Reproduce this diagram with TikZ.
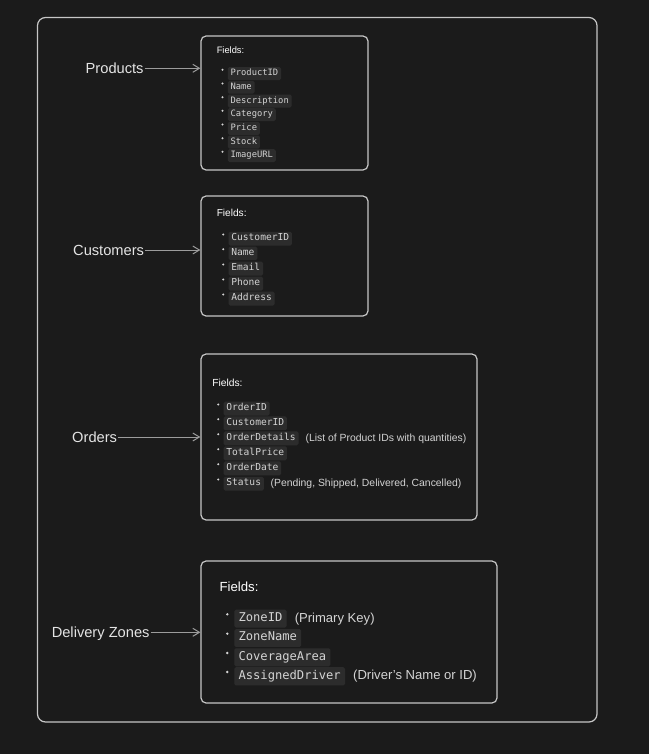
\documentclass[tikz,border=0pt]{standalone}
\usepackage{fontspec}
\setmainfont{Liberation Sans}
\setmonofont{DejaVu Sans Mono}
\usepackage{xcolor}
\usetikzlibrary{arrows.meta, positioning, fit}

\definecolor{canvas}{HTML}{1B1B1B}
\definecolor{framegray}{HTML}{C6C6C6}
\definecolor{chipfill}{HTML}{2C2C2C}
\definecolor{codetext}{HTML}{D4D4D4}
\definecolor{labeltext}{HTML}{E4E4E4}
\definecolor{arrowgray}{HTML}{9C9C9C}

\newcommand{\setsize}[1]{\fontsize{#1}{#1}\selectfont}

\tikzset{
    entity/.style={anchor=east, inner sep=0.5pt, text=labeltext, text depth=0pt, font=\setsize{11}},
    box/.style={draw=framegray, line width=0.9pt, rounded corners=3.8pt, inner sep=0pt},
    title/.style={anchor=west, inner sep=0pt, text=white, font=\setsize{#1}},
    chip/.style={anchor=west, yshift=-1pt, fill=chipfill, rounded corners=1.2pt, inner xsep=2.1pt, inner ysep=1.4pt,
        text=codetext, font=\ttfamily\setsize{#1}, execute at begin node=\strut},
    note/.style={inner sep=0pt, text=codetext, font=\setsize{#1}},
    dot/.style={fill=codetext},
    link/.style={draw=arrowgray, line width=0.75pt, -{Straight Barb[length=5pt, width=6pt]}}
}

\begin{document}
\begin{tikzpicture}[x=0.75pt, y=-0.75pt]

        %% Canvas and outer frame
        \path [use as bounding box, fill=canvas] (0,0) rectangle (649,754);
        \draw [draw=framegray, line width=0.9pt, rounded corners=6pt] (37.5,17.5) rectangle (597,722);

        %% Entity names
        \node (products) [entity] at (144.5,68.3) {Products};
        \node (customers) [entity] at (145,250) {Customers};
        \node (orders) [entity] at (118,437) {Orders};
        \node (zones) [entity] at (150.5,632.3) {Delivery Zones};

        %% Boxes
        \node (prodbox) [box, fit={(201,36) (368,170)}] {};
        \node (custbox) [box, fit={(201,196) (368,316)}] {};
        \node (ordbox) [box, fit={(201,354) (477,520)}] {};
        \node (zonebox) [box, fit={(201,561) (497,703)}] {};

        %% Products fields
        \node (prodfields) [title=7] at (216.5,50) {Fields:};
        \node (ProductID) [chip=6.6] at (227.5,72.3) {ProductID};
        \node (ProductName) [chip=6.6] at (227.5,86) {Name};
        \node (Description) [chip=6.6] at (227.5,99.7) {Description};
        \node (Category) [chip=6.6] at (227.5,113.3) {Category};
        \node (Price) [chip=6.6] at (227.5,127) {Price};
        \node (Stock) [chip=6.6] at (227.5,140.7) {Stock};
        \node (ImageURL) [chip=6.6] at (227.5,154.3) {ImageURL};
        \fill [dot] (222.5,69.8) circle (0.8pt);
        \fill [dot] (222.5,83.5) circle (0.8pt);
        \fill [dot] (222.5,97.2) circle (0.8pt);
        \fill [dot] (222.5,110.8) circle (0.8pt);
        \fill [dot] (222.5,124.5) circle (0.8pt);
        \fill [dot] (222.5,138.2) circle (0.8pt);
        \fill [dot] (222.5,151.8) circle (0.8pt);

        %% Customers fields
        \node (custfields) [title=7.6] at (216.5,212.7) {Fields:};
        \node (CustomerID) [chip=7.2] at (228.3,237.3) {CustomerID};
        \node (CustomerName) [chip=7.2] at (228.3,252) {Name};
        \node (Email) [chip=7.2] at (228.3,267.3) {Email};
        \node (Phone) [chip=7.2] at (228.3,282.3) {Phone};
        \node (Address) [chip=7.2] at (228.3,297.3) {Address};
        \fill [dot] (223.3,234.5) circle (0.85pt);
        \fill [dot] (223.3,249.2) circle (0.85pt);
        \fill [dot] (223.3,264.5) circle (0.85pt);
        \fill [dot] (223.3,279.5) circle (0.85pt);
        \fill [dot] (223.3,294.5) circle (0.85pt);

        %% Orders fields
        \node (ordfields) [title=7.7] at (212,382.7) {Fields:};
        \node (OrderID) [chip=7.2] at (223.3,407.3) {OrderID};
        \node (OrderCustomer) [chip=7.2] at (223.3,422) {CustomerID};
        \node (OrderDetails) [chip=7.2] at (223.3,437) {OrderDetails};
        \node (TotalPrice) [chip=7.2] at (223.3,452) {TotalPrice};
        \node (OrderDate) [chip=7.2] at (223.3,467) {OrderDate};
        \node (Status) [chip=7.2] at (223.3,482.3) {Status};
        \node (detailsnote) [note=7.8, right=4.9pt of OrderDetails] {(List of Product IDs with quantities)};
        \node (statusnote) [note=7.8, right=4.7pt of Status] {(Pending, Shipped, Delivered, Cancelled)};
        \fill [dot] (218.3,404.5) circle (0.85pt);
        \fill [dot] (218.3,419.2) circle (0.85pt);
        \fill [dot] (218.3,434.2) circle (0.85pt);
        \fill [dot] (218.3,449.2) circle (0.85pt);
        \fill [dot] (218.3,464.2) circle (0.85pt);
        \fill [dot] (218.3,479.5) circle (0.85pt);

        %% Delivery zone fields
        \node (zonefields) [title=9.9] at (219.3,586.7) {Fields:};
        \node (ZoneID) [chip=9.1, inner xsep=3.2pt, inner ysep=2pt] at (234,617.3) {ZoneID};
        \node (ZoneName) [chip=9.1, inner xsep=3.2pt, inner ysep=2pt] at (234,636.7) {ZoneName};
        \node (CoverageArea) [chip=9.1, inner xsep=3.2pt, inner ysep=2pt] at (234,656) {CoverageArea};
        \node (AssignedDriver) [chip=9.1, inner xsep=3.2pt, inner ysep=2pt] at (234,675) {AssignedDriver};
        \node (keynote) [note=9.8, right=5.7pt of ZoneID] {(Primary Key)};
        \node (drivernote) [note=9.8, right=5.7pt of AssignedDriver] {(Driver's Name or ID)};
        \fill [dot] (227.3,614.3) circle (1pt);
        \fill [dot] (227.3,633.7) circle (1pt);
        \fill [dot] (227.3,653) circle (1pt);
        \fill [dot] (227.3,672) circle (1pt);

        %% Arrows
        \draw [link] (products.east) -- (products.east -| prodbox.west);
        \draw [link] (customers.east) -- (customers.east -| custbox.west);
        \draw [link] (orders.east) -- (orders.east -| ordbox.west);
        \draw [link] (zones.east) -- (zones.east -| zonebox.west);

\end{tikzpicture}
\end{document}
